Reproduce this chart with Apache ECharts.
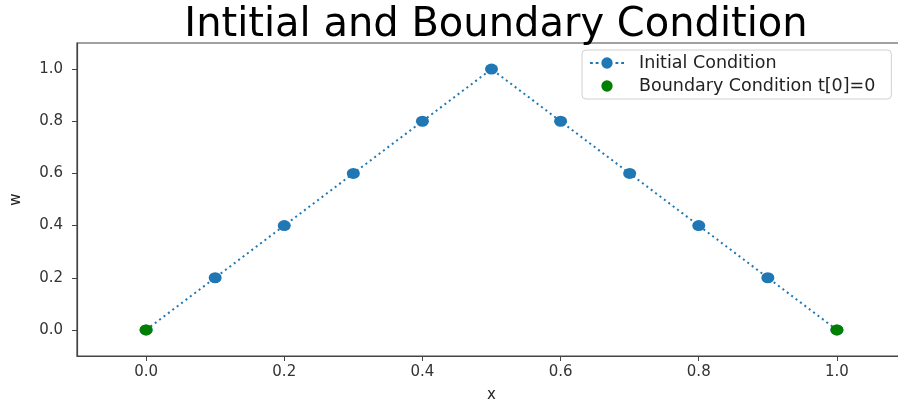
<!DOCTYPE html>
<html><head><meta charset="utf-8">
<script src="https://cdn.jsdelivr.net/npm/echarts@6/dist/echarts.min.js"></script>
<style>html,body{margin:0;padding:0;background:#fff}#c{width:898px;height:402px}</style>
</head><body><div id="c"></div>
<script>
var xValues = [0.0, 0.1, 0.2, 0.3, 0.4, 0.5, 0.6, 0.7, 0.8, 0.9, 1.0];
var initialW = [0.0, 0.2, 0.4, 0.6, 0.8, 1.0, 0.8, 0.6, 0.4, 0.2, 0.0];
var boundaryX = [0.0, 1.0];
var boundaryW = [0.0, 0.0];
var xTicks = [0.0, 0.2, 0.4, 0.6, 0.8, 1.0];
var yTicks = [0.0, 0.2, 0.4, 0.6, 0.8, 1.0];
var titleText = 'Intitial and Boundary Condition';
var seriesNames = ['Initial Condition', 'Boundary Condition t[0]=0'];

var font = 'DejaVu Sans';
var chart = echarts.init(document.getElementById('c'), null, {renderer: 'canvas'});
var lineIcon = 'path://M0,5h3v2h-3z M6,5h3v2h-3z M18,0a6,6 0 1,0 0.01,0z M27,5h3v2h-3z M33,5h3v2h-3z';
chart.setOption({
  animation: false,
  color: ['#1f77b4', '#008000'],
  title: {
    text: titleText, left: 491, textAlign: 'center', top: 1,
    textStyle: {fontFamily: font, fontSize: 40, fontWeight: 'normal', color: '#000'}
  },
  grid: {left: 77, top: 43, width: 829, bottom: 46, show: true, borderColor: '#444', borderWidth: 1.2,
    containLabel: false, outerBoundsMode: 'none'},
  legend: {
    orient: 'vertical', left: 582, top: 50, itemGap: 5, padding: [4, 16, 4, 8],
    backgroundColor: '#fff', borderColor: '#d0d0d0', borderWidth: 1, borderRadius: 4,
    itemWidth: 34, itemHeight: 12, itemStyle: {borderWidth: 0},
    textStyle: {fontFamily: font, fontSize: 17.5, color: '#222', padding: [0, 0, 0, 10]},
    data: [
      {name: seriesNames[0], icon: lineIcon, itemStyle: {color: '#1f77b4', opacity: 1}},
      {name: seriesNames[1], icon: 'path://M18,0a6,6 0 1,0 0.01,0z M0,6h0.01z M36,6h0.01z', itemStyle: {color: '#008000', opacity: 1}}
    ]
  },
  xAxis: {
    type: 'value', min: -0.1, max: 1.1,
    name: 'x', nameLocation: 'middle', nameGap: 32,
    nameTextStyle: {fontFamily: font, fontSize: 15, color: '#222'},
    axisLine: {show: true, onZero: false, lineStyle: {color: '#444', width: 1.2}},
    axisTick: {show: true, length: 5, customValues: xTicks, lineStyle: {color: '#444'}},
    axisLabel: {customValues: xTicks, fontFamily: font, fontSize: 15, color: '#333', margin: 9,
      formatter: function (v) { return v.toFixed(1); }},
    splitLine: {show: false}
  },
  yAxis: {
    type: 'value', min: -0.1, max: 1.1,
    name: 'w', nameLocation: 'middle', nameGap: 53, nameRotate: 90,
    nameTextStyle: {fontFamily: font, fontSize: 15, color: '#222'},
    axisLine: {show: true, onZero: false, lineStyle: {color: '#444', width: 1.2}},
    axisTick: {show: true, length: 5, customValues: yTicks, lineStyle: {color: '#444'}},
    axisLabel: {customValues: yTicks, fontFamily: font, fontSize: 15, color: '#333', margin: 14,
      formatter: function (v) { return v.toFixed(1); }},
    splitLine: {show: false}
  },
  series: [
    {
      name: seriesNames[0], type: 'line',
      data: xValues.map(function (x, i) { return [x, initialW[i]]; }),
      symbol: 'circle', symbolSize: [13, 11], showSymbol: true,
      itemStyle: {color: '#1f77b4'},
      lineStyle: {color: '#1f77b4', width: 2, type: [2, 3.5]},
      z: 2
    },
    {
      name: seriesNames[1], type: 'scatter',
      data: boundaryX.map(function (x, i) { return [x, boundaryW[i]]; }),
      symbol: 'circle', symbolSize: [13, 11],
      itemStyle: {color: '#008000', opacity: 1},
      z: 3
    }
  ]
});
</script></body></html>
